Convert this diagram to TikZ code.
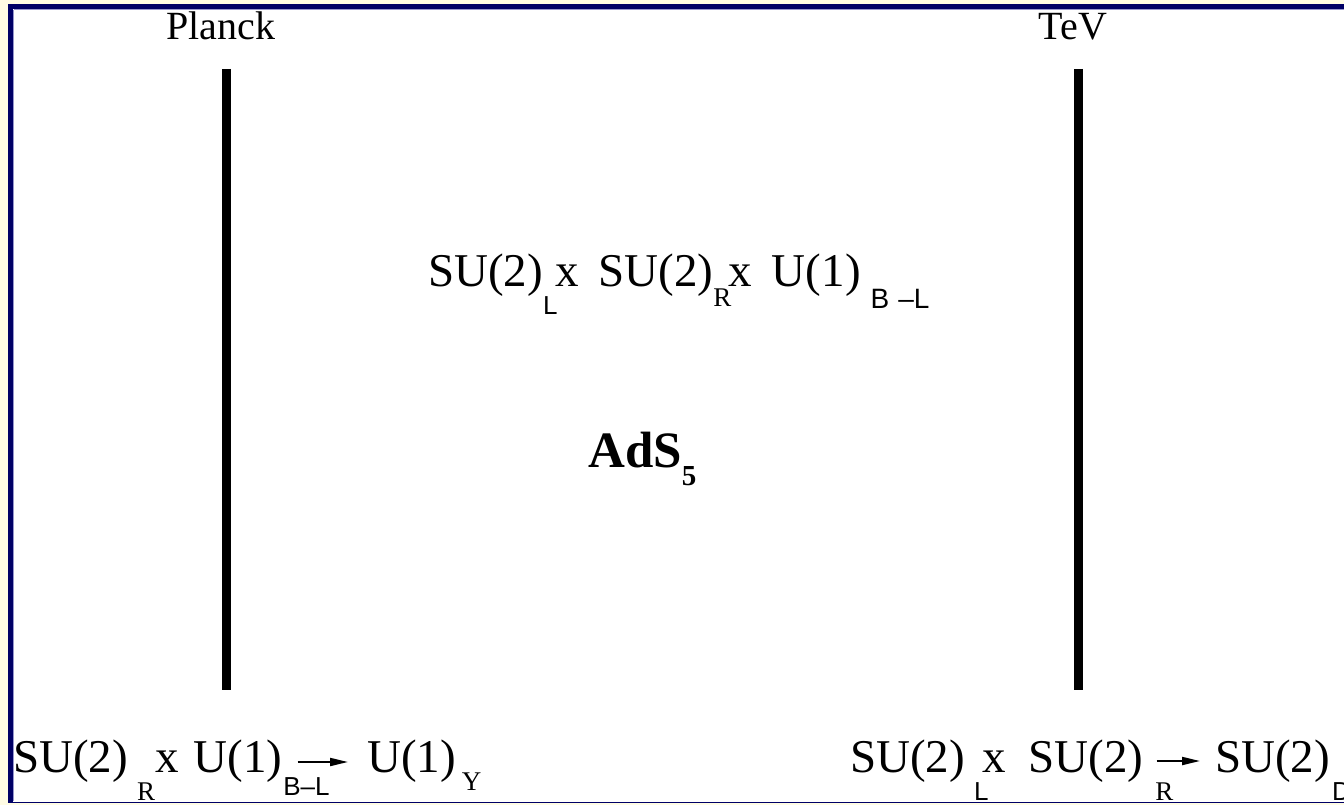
\documentclass[tikz,border=0pt]{standalone}
\usepackage{fontspec}
\setmainfont{Liberation Serif}
\setsansfont{Liberation Sans}
\usetikzlibrary{arrows.meta,calc}

\definecolor{slidebg}{RGB}{255,252,228}
\definecolor{framenavy}{RGB}{0,0,102}
\definecolor{framelite}{RGB}{150,150,205}

% lowered subscripts, drawn with no width
\newcommand{\lowsf}[3][0pt]{\rlap{\hspace{#1}\raisebox{-#2}{\fontsize{26}{26}\selectfont\sffamily #3}}}
\newcommand{\lowrm}[3][0pt]{\rlap{\hspace{#1}\raisebox{-#2}{\fontsize{27}{27}\selectfont #3}}}
\newcommand{\grpfont}{\fontsize{47}{52}\selectfont}

\begin{document}
\begin{tikzpicture}[x=1pt,y=-1pt,
    every node/.style={inner sep=0pt},
    brane/.style={line width=9pt},
    breaking/.style={line width=2pt,-{Triangle[length=18pt,width=8pt]}}]
  \useasboundingbox (0,0) rectangle (1344,805);
  % slide frame
  \fill[slidebg] (0,0) rectangle (1344,805);
  \fill[white] (13,9) rectangle (1344,802);
  \fill[framenavy] (8,4) rectangle (13,803);
  \fill[framenavy] (8,4) rectangle (1344,9);
  \fill[framenavy] (8,801.5) rectangle (1344,803);
  \draw[framelite,line width=1pt] (13.5,10) -- (13.5,801) (14,9.5) -- (1344,9.5);

  % the two branes
  \node[anchor=base] (planck) at (221,40) {\fontsize{40}{40}\selectfont Planck};
  \node[anchor=base] (tev) at (1073,40) {\fontsize{40}{40}\selectfont TeV};
  \coordinate (P1) at (226.5,69);
  \coordinate (P2) at (226.5,690);
  \coordinate (T1) at (1078.5,69);
  \coordinate (T2) at (1078.5,690);
  \draw[brane] (P1) -- (P2);
  \draw[brane] (T1) -- (T2);

  % bulk
  \node[anchor=base west] (bulk) at (428,287) {\grpfont
    SU(2)\lowsf{28pt}{L}\hspace{12pt}x\hspace{20pt}SU(2)\lowrm{20pt}{R}\hspace{15pt}x\hspace{20pt}U(1)\lowsf[10pt]{21pt}{\fontsize{28}{28}\selectfont B\hspace{9pt}--L}};
  \node[anchor=base west] (ads) at (588,467) {\fontsize{51}{54}\selectfont\bfseries
    AdS\raisebox{-18pt}{\fontsize{29}{29}\selectfont 5}};

  % breaking on the Planck brane
  \node[anchor=base west] (B1) at (13,772) {\grpfont
    SU(2)\lowrm[9pt]{28pt}{R}\hspace{27pt}x\hspace{15pt}U(1)\lowsf[1pt]{23pt}{B--L}};
  \node[anchor=base west] (B2) at (367,772) {\grpfont U(1)\lowrm[6pt]{18pt}{Y}};
  \path[breaking] ([shift={(15pt,10pt)}]B1.base east) edge ([shift={(-19pt,10pt)}]B2.base west);

  % breaking on the TeV brane
  \node[anchor=base west] (B3) at (850,772) {\grpfont
    SU(2)\lowsf[9pt]{28pt}{L}\hspace{17pt}x\hspace{23pt}SU(2)\lowrm[12pt]{28pt}{R}};
  \node[anchor=base west] (B4) at (1215,772) {\grpfont SU(2)\lowsf[2pt]{28pt}{D}};
  \path[breaking] ([shift={(13pt,11pt)}]B3.base east) edge ([shift={(-15pt,11pt)}]B4.base west);
\end{tikzpicture}
\end{document}
